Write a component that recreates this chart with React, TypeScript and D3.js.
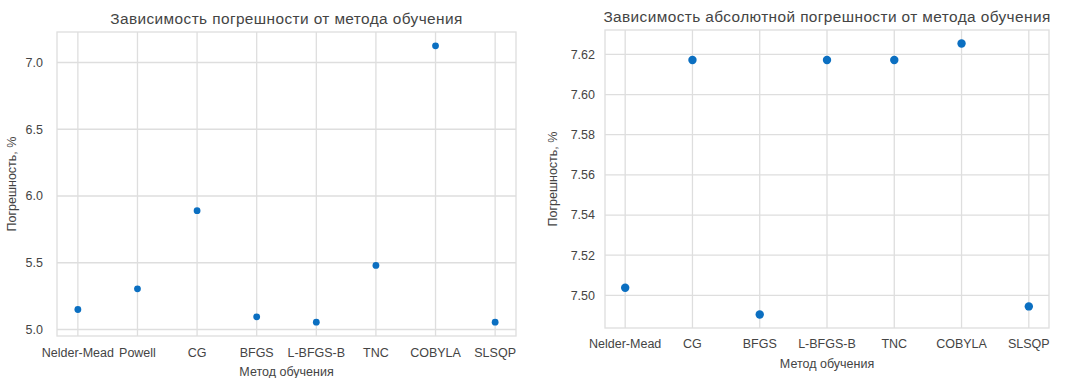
import React, { useEffect, useRef } from 'react';
import * as d3 from 'd3';

// left panel: relative error by method
const methodsLeft = ['Nelder-Mead', 'Powell', 'CG', 'BFGS', 'L-BFGS-B', 'TNC', 'COBYLA', 'SLSQP'];
const errorLeft = [5.15, 5.305, 5.89, 5.095, 5.055, 5.48, 7.125, 5.055];
const ticksLeft = [5.0, 5.5, 6.0, 6.5, 7.0];

// right panel: absolute error by method
const methodsRight = ['Nelder-Mead', 'CG', 'BFGS', 'L-BFGS-B', 'TNC', 'COBYLA', 'SLSQP'];
const errorRight = [7.5038, 7.6172, 7.4905, 7.6172, 7.6172, 7.6254, 7.4945];
const ticksRight = [7.5, 7.52, 7.54, 7.56, 7.58, 7.6, 7.62];

const FONT = '"Liberation Sans", Arial, Helvetica, sans-serif';
const GRID = '#dedede';
const TEXT = '#444444';
const DOT = '#0b6fc1';

type Panel = {
  title: string;
  cats: string[];
  vals: number[];
  ticks: number[];
  fmt: (v: number) => string;
  box: { left: number; right: number; top: number; bottom: number };
  r: number;
  titleY: number;
  tickY: number;
  xLabelY: number;
  yLabelX: number;
  tickX: number;
};

const panels: Panel[] = [
  {
    title: 'Зависимость погрешности от метода обучения',
    cats: methodsLeft,
    vals: errorLeft,
    ticks: ticksLeft,
    fmt: d3.format('.1f'),
    box: { left: 57, right: 516, top: 32, bottom: 336 },
    r: 3.4,
    titleY: 24,
    tickY: 357,
    xLabelY: 376,
    yLabelX: 16,
    tickX: 43,
  },
  {
    title: 'Зависимость абсолютной погрешности от метода обучения',
    cats: methodsRight,
    vals: errorRight,
    ticks: ticksRight,
    fmt: d3.format('.2f'),
    box: { left: 605, right: 1049, top: 30, bottom: 328 },
    r: 4.2,
    titleY: 22,
    tickY: 348,
    xLabelY: 368,
    yLabelX: 557,
    tickX: 595,
  },
];

const App = () => {
  const svgRef = useRef<SVGSVGElement>(null);

  useEffect(() => {
    const svg = d3.select(svgRef.current);
    svg.selectAll('*').remove();

    panels.forEach((p) => {
      const { left, right, top, bottom } = p.box;
      const n = p.cats.length;
      // matplotlib-like 5% margins
      const xPad = (n - 1) * 0.05;
      const x = d3.scaleLinear().domain([-xPad, n - 1 + xPad]).range([left, right]);
      const [lo, hi] = d3.extent(p.vals) as [number, number];
      const yPad = (hi - lo) * 0.05;
      const y = d3.scaleLinear().domain([lo - yPad, hi + yPad]).range([bottom, top]);

      const g = svg.append('g').style('font-family', FONT);

      // grid
      g.selectAll('.gx')
        .data(p.cats)
        .enter().append('line')
        .attr('x1', (_, i) => x(i)).attr('x2', (_, i) => x(i))
        .attr('y1', top).attr('y2', bottom)
        .attr('stroke', GRID).attr('stroke-width', 1.3);

      g.selectAll('.gy')
        .data(p.ticks)
        .enter().append('line')
        .attr('x1', left).attr('x2', right)
        .attr('y1', (d) => y(d)).attr('y2', (d) => y(d))
        .attr('stroke', GRID).attr('stroke-width', 1.3);

      // frame
      g.append('rect')
        .attr('x', left).attr('y', top)
        .attr('width', right - left).attr('height', bottom - top)
        .attr('fill', 'none').attr('stroke', GRID).attr('stroke-width', 1.3);

      // tick labels
      g.selectAll('.tx')
        .data(p.cats)
        .enter().append('text')
        .attr('x', (_, i) => x(i)).attr('y', p.tickY)
        .attr('text-anchor', 'middle')
        .attr('font-size', 12.5).attr('fill', TEXT)
        .text((d) => d);

      g.selectAll('.ty')
        .data(p.ticks)
        .enter().append('text')
        .attr('x', p.tickX).attr('y', (d) => y(d))
        .attr('dy', '0.35em')
        .attr('text-anchor', 'end')
        .attr('font-size', 12.5).attr('fill', TEXT)
        .text((d) => p.fmt(d));

      // points
      g.selectAll('circle')
        .data(p.vals)
        .enter().append('circle')
        .attr('cx', (_, i) => x(i))
        .attr('cy', (d) => y(d))
        .attr('r', p.r)
        .attr('fill', DOT);

      // titles and labels
      g.append('text')
        .attr('x', (left + right) / 2).attr('y', p.titleY)
        .attr('text-anchor', 'middle')
        .attr('font-size', 15.4)
        .attr('letter-spacing', 0.4)
        .attr('fill', TEXT)
        .text(p.title);

      g.append('text')
        .attr('x', (left + right) / 2).attr('y', p.xLabelY)
        .attr('text-anchor', 'middle')
        .attr('font-size', 12.5).attr('fill', TEXT)
        .text('Метод обучения');

      g.append('text')
        .attr('transform', `translate(${p.yLabelX},${(top + bottom) / 2}) rotate(-90)`)
        .attr('text-anchor', 'middle')
        .attr('font-size', 12.5).attr('fill', TEXT)
        .text('Погрешность, %');
    });
  }, []);

  return (
    <svg
      ref={svgRef}
      width={1068}
      height={378}
      style={{ position: 'absolute', left: 0, top: 0, background: '#fff' }}
    />
  );
};

export default App;
